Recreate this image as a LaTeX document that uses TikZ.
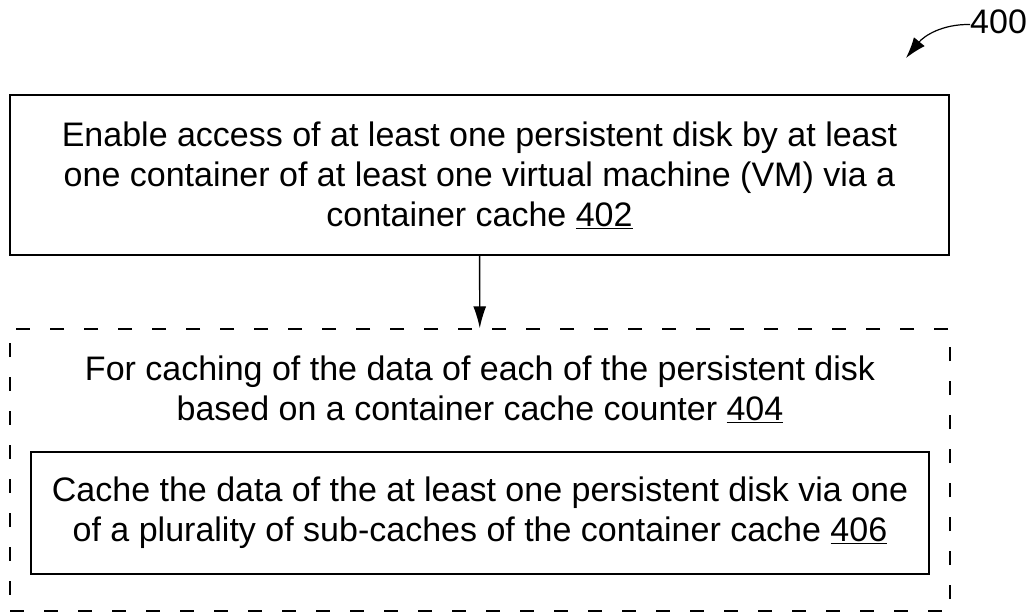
\documentclass[tikz,border=0pt]{standalone}
\usepackage{fontspec}
\setmainfont{Liberation Sans}
\usetikzlibrary{positioning}
\usetikzlibrary{arrows.meta}

\begin{document}
\begin{tikzpicture}[x=1pt,y=-1pt,
  stepbox/.style={rectangle,draw=black,line width=1.4pt,align=center,inner sep=0pt,font=\fontsize{34}{40}\selectfont},
  groupbox/.style={rectangle,draw=black,line width=1.4pt,dash pattern=on 14pt off 20pt},
  txt/.style={align=center,inner sep=0pt,font=\fontsize{34}{40}\selectfont},
  >={Latex[length=22pt,width=13pt]}]
		\useasboundingbox (0,0) rectangle (1034,613);
		\node[stepbox,minimum width=939pt,minimum height=160pt] (enable) at (479.5,175) {Enable access of at least one persistent disk by at least\\one container of at least one virtual machine (VM) via a\\container cache \underline{402}};
		\node[groupbox,minimum width=940pt,minimum height=282pt] (group) at (480,470) {};
		\node[txt,below=27pt of group.north] (caching) {For caching of the data of each of the persistent disk\\based on a container cache counter \underline{404}};
		\node[stepbox,minimum width=898pt,minimum height=122pt,above=37pt of group.south] (cache) {Cache the data of the at least one persistent disk via one\\of a plurality of sub-caches of the container cache \underline{406}};
		\node[txt,anchor=west] (fignum) at (970,21.5) {400};
		\coordinate (figtip) at (906,58);
		\draw[line width=1.4pt,->] (enable) -- (group);
		\draw[line width=1.2pt,-{Latex[length=21pt,width=14pt]}] ([yshift=-3pt]fignum.west) .. controls (942,24) and (924,36) .. (figtip);
	\end{tikzpicture}
\end{document}
